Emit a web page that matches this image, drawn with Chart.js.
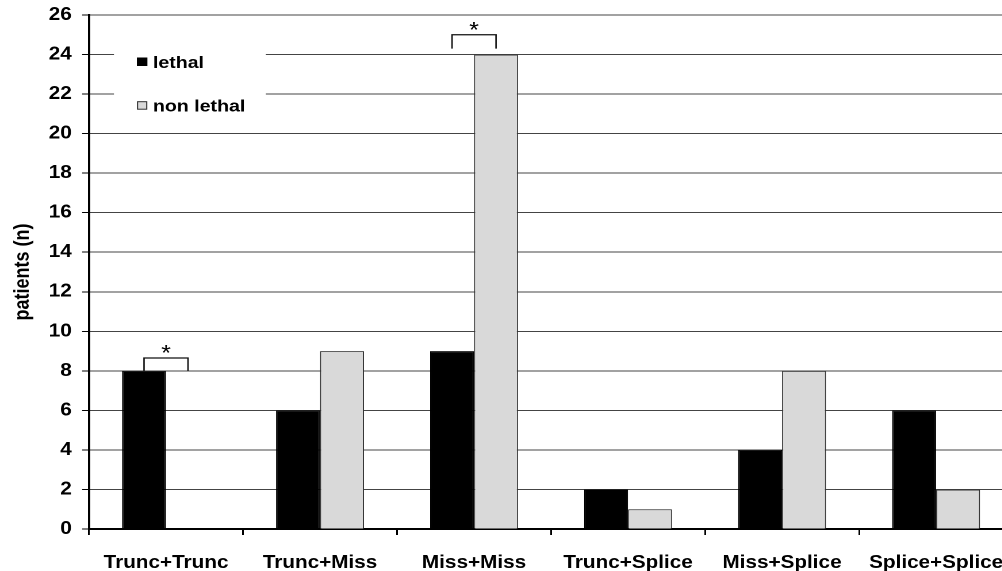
<!DOCTYPE html>
<html>
<head>
<meta charset="utf-8">
<script src="https://cdn.jsdelivr.net/npm/chart.js@4/dist/chart.umd.min.js"></script>
<style>
  html, body { margin: 0; padding: 0; background: #fff; overflow: hidden; }
  /* the original picture is stretched sideways, so the chart is drawn narrower and widened */
  #wrap { width: 890px; height: 571px; transform: scaleX(1.15); transform-origin: 0 0; }
</style>
</head>
<body>
<div id="wrap"><canvas id="mutationChart"></canvas></div>
<script>
// Дані
const categories = ['Trunc+Trunc', 'Trunc+Miss', 'Miss+Miss', 'Trunc+Splice', 'Miss+Splice', 'Splice+Splice'];
const lethalValues = [8, 6, 9, 2, 4, 6];
const nonLethalValues = [0, 9, 24, 1, 8, 2];
const yTicks = [0, 2, 4, 6, 8, 10, 12, 14, 16, 18, 20, 22, 24, 26];

// Дужки значущості: категорія, верх дужки, низ ніжок
const sigIndexes = [0, 2];
const sigTops = [8.65, 25];
const sigBottoms = [8, 24.3];
const sigLabels = ['*', '*'];

const FONT = '"Liberation Sans", Arial, sans-serif';
Chart.defaults.font.family = FONT;

// Дужки з зірочками над парами стовпців
const sigPlugin = {
  id: 'sigBrackets',
  afterDatasetsDraw(chart) {
    const ctx = chart.ctx;
    const yScale = chart.scales.y;
    const m0 = chart.getDatasetMeta(0);
    const m1 = chart.getDatasetMeta(1);
    ctx.save();
    sigIndexes.forEach((idx, k) => {
      const x1 = m0.data[idx].x;
      const x2 = m1.data[idx].x;
      const yt = yScale.getPixelForValue(sigTops[k]);
      const yb = yScale.getPixelForValue(sigBottoms[k]);
      ctx.strokeStyle = '#111';
      ctx.lineWidth = 1.3;
      ctx.beginPath();
      ctx.moveTo(x1, yb);
      ctx.lineTo(x1, yt);
      ctx.lineTo(x2, yt);
      ctx.lineTo(x2, yb);
      ctx.stroke();
      ctx.fillStyle = '#000';
      ctx.font = '22px ' + FONT;
      ctx.textAlign = 'center';
      ctx.textBaseline = 'alphabetic';
      ctx.fillText(sigLabels[k], (x1 + x2) / 2, yt + 2.5);
    });
    ctx.restore();
  }
};

// Легенда всередині області графіка (біле тло перекриває сітку)
const insideLegend = {
  id: 'insideLegend',
  afterDraw(chart) {
    const { ctx, chartArea } = chart;
    const left = chartArea.left + 21.7;
    ctx.save();
    ctx.fillStyle = '#fff';
    ctx.fillRect(left, 28, 132, 92);
    chart.data.datasets.forEach((ds, i) => {
      const baseline = 68 + i * 43.7;
      const sx = chartArea.left + 41.7;
      ctx.fillStyle = ds.backgroundColor;
      ctx.fillRect(sx, baseline - 10.5, 9, 8.5);
      ctx.strokeStyle = ds.borderColor;
      ctx.lineWidth = 1;
      ctx.strokeRect(sx + 0.5, baseline - 10, 8, 7.5);
      ctx.fillStyle = '#000';
      ctx.font = 'bold 17px ' + FONT;
      ctx.textAlign = 'left';
      ctx.textBaseline = 'alphabetic';
      ctx.fillText(ds.label, chartArea.left + 55.6, baseline);
    });
    ctx.restore();
  }
};

const ctx = document.getElementById('mutationChart');

new Chart(ctx, {
  type: 'bar',
  data: {
    labels: categories,
    datasets: [
      {
        label: 'lethal',
        data: lethalValues,
        backgroundColor: '#000000',
        borderColor: '#000000',
        borderWidth: 1
      },
      {
        label: 'non lethal',
        data: nonLethalValues,
        backgroundColor: '#d9d9d9',
        borderColor: '#333333',
        borderWidth: 1
      }
    ]
  },
  options: {
    responsive: true,
    maintainAspectRatio: false,
    devicePixelRatio: 2,
    animation: false,
    categoryPercentage: 0.571,
    barPercentage: 1,
    layout: {
      padding: { top: 15, right: 9, bottom: 0, left: 0 }
    },
    scales: {
      x: {
        grid: {
          offset: true,
          drawOnChartArea: false,
          drawTicks: true,
          tickLength: 6,
          color: '#000',
          lineWidth: 1.5
        },
        border: { color: '#000', width: 2 },
        ticks: {
          color: '#000',
          font: { size: 18, weight: 'bold' },
          padding: 17,
          maxRotation: 0,
          autoSkip: false
        },
        afterFit(scale) { scale.height = 42; }
      },
      y: {
        min: 0,
        max: 26,
        afterBuildTicks(scale) {
          scale.ticks = yTicks.map(v => ({ value: v }));
        },
        grid: {
          color: '#444',
          tickColor: '#000',
          lineWidth: 1,
          tickLength: 6
        },
        border: { color: '#000', width: 2 },
        ticks: {
          color: '#000',
          font: { size: 18, weight: 'bold' },
          padding: 9
        },
        title: {
          display: true,
          text: 'patients (n)',
          color: '#000',
          font: { size: 18, weight: 'bold' },
          padding: { top: 9, bottom: 0 }
        },
        afterFit(scale) {
          scale.width = 77.4;
          // не давати підписам зсувати область графіка
          scale.paddingTop = 0;
          scale.paddingBottom = 0;
        }
      }
    },
    plugins: {
      legend: { display: false },
      title: { display: false },
      tooltip: { enabled: false }
    }
  },
  plugins: [sigPlugin, insideLegend]
});
</script>
</body>
</html>
